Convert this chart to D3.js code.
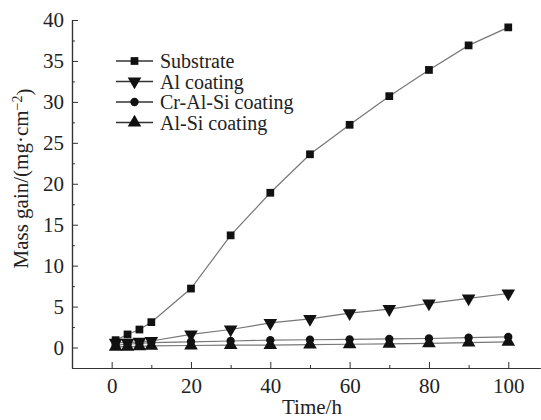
<!DOCTYPE html>
<html><head><meta charset="utf-8">
<script src="https://cdn.jsdelivr.net/npm/d3@7"></script>
<style>body{margin:0;background:#fff}svg{display:block}text{font-family:"Liberation Serif","Times New Roman",serif;fill:#222}</style>
</head><body>
<svg id="c" width="541" height="420"></svg>
<script>
const times = [1, 4, 7, 10, 20, 30, 40, 50, 60, 70, 80, 90, 100];
const substrate = [0.9, 1.6, 2.2, 3.1, 7.2, 13.7, 18.9, 23.6, 27.2, 30.7, 33.9, 36.9, 39.1];
const alCoating = [0.6, 0.6, 0.7, 0.8, 1.6, 2.2, 3.0, 3.5, 4.2, 4.7, 5.4, 6.0, 6.6];
const crAlSi = [0.3, 0.4, 0.5, 0.6, 0.7, 0.8, 0.9, 0.95, 1.0, 1.05, 1.1, 1.2, 1.3];
const alSi = [0.1, 0.1, 0.15, 0.2, 0.25, 0.3, 0.3, 0.35, 0.4, 0.45, 0.5, 0.6, 0.7];
const seriesNames = ["Substrate", "Al coating", "Cr-Al-Si coating", "Al-Si coating"];
const xMajor = [0, 20, 40, 60, 80, 100];
const xMinor = [10, 30, 50, 70, 90];
const yMajor = [0, 5, 10, 15, 20, 25, 30, 35, 40];
const yMinor = [2.5, 7.5, 12.5, 17.5, 22.5, 27.5, 32.5, 37.5];

const FONT = '"Liberation Serif","Times New Roman",serif';
const FS = "21px";
const svg = d3.select("#c");
const x = d3.scaleLinear().domain([-10, 108]).range([72, 540]);
const y = d3.scaleLinear().domain([-2.5, 40]).range([368, 20]);
const axisColor = "#333";

// Axes
const gx = svg.append("g").attr("transform", `translate(0,${y(-2.5)})`);
gx.call(d3.axisBottom(x).tickValues(xMajor).tickSizeInner(-6).tickSizeOuter(0).tickPadding(10));
gx.append("g").call(d3.axisBottom(x).tickValues(xMinor).tickSizeInner(-3).tickSizeOuter(0).tickFormat(""));
const gy = svg.append("g").attr("transform", `translate(${x(-10)},0)`);
gy.call(d3.axisLeft(y).tickValues(yMajor).tickSizeInner(-6).tickSizeOuter(0).tickPadding(8));
gy.append("g").call(d3.axisLeft(y).tickValues(yMinor).tickSizeInner(-3).tickSizeOuter(0).tickFormat(""));
svg.selectAll("g").attr("font-family", FONT);
svg.selectAll(".domain").attr("stroke", axisColor).attr("stroke-width", 1.2);
svg.selectAll(".tick line").attr("stroke", axisColor);
svg.selectAll(".tick text").style("font-family", FONT).style("font-size", FS).attr("fill", "#222");
gx.selectAll(".tick text").attr("dy", "0.71em");

// Axis titles
svg.append("text").attr("x", 312).attr("y", 414).attr("text-anchor", "middle")
  .style("font-family", FONT).style("font-size", FS).text("Time/h");
const yt = svg.append("text").attr("transform", `translate(28,${(89 + 268) / 2}) rotate(-90)`)
  .attr("text-anchor", "middle").style("font-family", FONT).style("font-size", FS);
yt.append("tspan").text("Mass gain/(mg·cm");
yt.append("tspan").attr("dy", "-0.45em").style("font-size", "14px").text("−2");
yt.append("tspan").attr("dy", "0.45em").text(")");

const data = [substrate, alCoating, crAlSi, alSi];
const shapes = [d3.symbolSquare, "down", d3.symbolCircle, d3.symbolTriangle];
const sizes = [60, 80, 55, 80];
function markerPath(i) {
  if (shapes[i] === "down") return d3.symbol().type(d3.symbolTriangle).size(sizes[i])();
  return d3.symbol().type(shapes[i]).size(sizes[i])();
}
const line = d3.line().x(d => x(d[0])).y(d => y(d[1]));
data.forEach((vals, i) => {
  const pts = times.map((t, j) => [t, vals[j]]);
  svg.append("path").datum(pts).attr("d", line).attr("fill", "none").attr("stroke", "#777").attr("stroke-width", 1.2);
  svg.append("g").selectAll("path").data(pts).join("path")
    .attr("d", markerPath(i))
    .attr("transform", d => `translate(${x(d[0])},${y(d[1])})` + (shapes[i] === "down" ? " rotate(180)" : ""))
    .attr("fill", "#111");
});

// Legend
const legY = [61, 81.5, 102, 122.5];
seriesNames.forEach((name, i) => {
  const g = svg.append("g").attr("transform", `translate(0,${legY[i]})`);
  g.append("line").attr("x1", 116).attr("x2", 153).attr("y1", 0).attr("y2", 0).attr("stroke", "#333").attr("stroke-width", 1.3);
  g.append("path").attr("d", markerPath(i)).attr("fill", "#111")
    .attr("transform", `translate(134.5,0)` + (shapes[i] === "down" ? " rotate(180)" : ""));
  g.append("text").attr("x", 160).attr("y", 0).attr("dy", "0.35em").style("font-family", FONT).style("font-size", "20px").text(name);
});
</script>
</body></html>
